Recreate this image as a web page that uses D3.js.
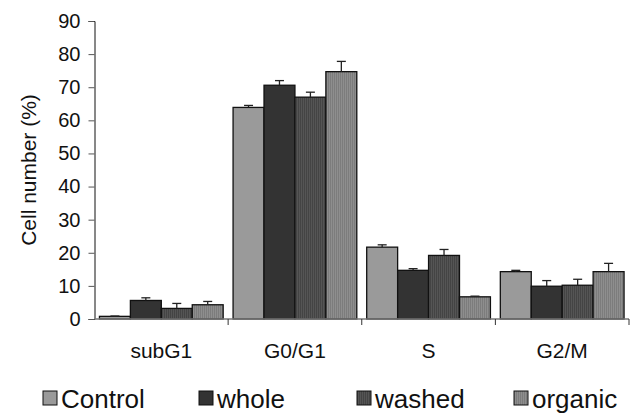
<!DOCTYPE html>
<html>
<head>
<meta charset="utf-8">
<script src="https://cdn.jsdelivr.net/npm/d3@7"></script>
<style>
  html, body { margin: 0; padding: 0; background: #fff; }
  svg { display: block; font-family: Arial, "Liberation Sans", sans-serif; }
</style>
</head>
<body>
<svg id="chart" width="634" height="419"></svg>
<script>
// Cell-cycle phase distribution (% of cells) per treatment
const phases = ["subG1", "G0/G1", "S", "G2/M"];
const groups = ["Control", "whole", "washed", "organic"];
const control = [0.8, 63.9, 21.7, 14.3];
const whole   = [5.6, 70.6, 14.7, 9.9];
const washed  = [3.2, 67.0, 19.2, 10.2];
const organic = [4.3, 74.7, 6.7, 14.3];
// standard deviations (upper error bars)
const controlErr = [0.1, 0.6, 0.7, 0.4];
const wholeErr   = [0.8, 1.4, 0.5, 1.7];
const washedErr  = [1.5, 1.5, 1.8, 1.8];
const organicErr = [1.0, 3.1, 0.2, 2.5];
const yTicks = [0, 10, 20, 30, 40, 50, 60, 70, 80, 90];

const series = [
  { name: groups[0], values: control, err: controlErr, fill: "#9a9a9a" },
  { name: groups[1], values: whole,   err: wholeErr,   fill: "#333333" },
  { name: groups[2], values: washed,  err: washedErr,  fill: "url(#stripeDark)" },
  { name: groups[3], values: organic, err: organicErr, fill: "url(#stripeMid)" }
];

const svg = d3.select("#chart");
const x0 = 94.5, x1 = 629, yTop = 21, yBot = 319;

// vertical-stripe fills
const defs = svg.append("defs");
function stripes(id, a, b) {
  const p = defs.append("pattern").attr("id", id)
    .attr("patternUnits", "userSpaceOnUse").attr("width", 2).attr("height", 4);
  p.append("rect").attr("width", 1).attr("height", 4).attr("fill", a);
  p.append("rect").attr("x", 1).attr("width", 1).attr("height", 4).attr("fill", b);
}
stripes("stripeDark", "#444444", "#555555");
stripes("stripeMid", "#7c7c7c", "#8e8e8e");

const x = d3.scaleBand().domain(phases).range([x0, x1]).paddingInner(0).paddingOuter(0);
const xs = d3.scaleBand().domain(groups).range([0, x.bandwidth()]).paddingInner(0).paddingOuter(0.16);
const y = d3.scaleLinear().domain([0, 90]).range([yBot, yTop]);

// axes
const yAxis = d3.axisLeft(y).tickValues(yTicks).tickSize(6).tickPadding(8);
const gy = svg.append("g").attr("transform", `translate(${x0},0)`).call(yAxis);
gy.select(".domain").attr("stroke", "#111");
gy.selectAll(".tick line").attr("stroke", "#555");
gy.selectAll(".tick text").attr("font-size", 20).attr("fill", "#111")
  .attr("font-family", "Arial, 'Liberation Sans', sans-serif");

// bars
const bars = svg.append("g");
series.forEach(s => {
  bars.selectAll(null).data(phases).enter().append("rect")
    .attr("x", d => x(d) + xs(s.name))
    .attr("y", (d, i) => y(s.values[i]))
    .attr("width", xs.bandwidth())
    .attr("height", (d, i) => yBot - y(s.values[i]))
    .attr("fill", s.fill)
    .attr("stroke", "#111").attr("stroke-width", 1.3);
});

// error bars
const eb = svg.append("g").attr("stroke", "#222").attr("stroke-width", 1.3);
series.forEach(s => {
  phases.forEach((p, i) => {
    const cx = x(p) + xs(s.name) + xs.bandwidth() / 2;
    const top = y(s.values[i] + s.err[i]);
    eb.append("line").attr("x1", cx).attr("x2", cx)
      .attr("y1", y(s.values[i])).attr("y2", top);
    eb.append("line").attr("x1", cx - 4.5).attr("x2", cx + 4.5)
      .attr("y1", top).attr("y2", top);
  });
});

// x axis with ticks between categories
const gx = svg.append("g").attr("transform", `translate(0,${yBot})`);
gx.append("line").attr("x1", x0).attr("x2", x1).attr("stroke", "#777").attr("stroke-width", 1.3);
const bounds = phases.map(p => x(p) + x.bandwidth());
gx.selectAll(null).data(bounds).enter().append("line")
  .attr("x1", d => d).attr("x2", d => d).attr("y1", 0).attr("y2", 6)
  .attr("stroke", "#333");
gx.selectAll(null).data(phases).enter().append("text")
  .attr("x", d => x(d) + x.bandwidth() / 2).attr("y", 39)
  .attr("text-anchor", "middle").attr("font-size", 21).attr("fill", "#111")
  .text(d => d);

// y axis title
svg.append("text")
  .attr("transform", `translate(36,${(yTop + yBot) / 2}) rotate(-90)`)
  .attr("text-anchor", "middle").attr("font-size", 21).attr("fill", "#111")
  .text("Cell number (%)");

// legend
const legX = [43, 199, 357, 514];
const leg = svg.append("g");
series.forEach((s, i) => {
  const g = leg.append("g").attr("transform", `translate(${legX[i]},391)`);
  g.append("rect").attr("width", 14).attr("height", 14)
    .attr("fill", s.fill).attr("stroke", "#111").attr("stroke-width", 1);
  g.append("text").attr("x", 18).attr("y", 17).attr("font-size", 26)
    .attr("fill", "#111").text(s.name);
});
</script>
</body>
</html>
